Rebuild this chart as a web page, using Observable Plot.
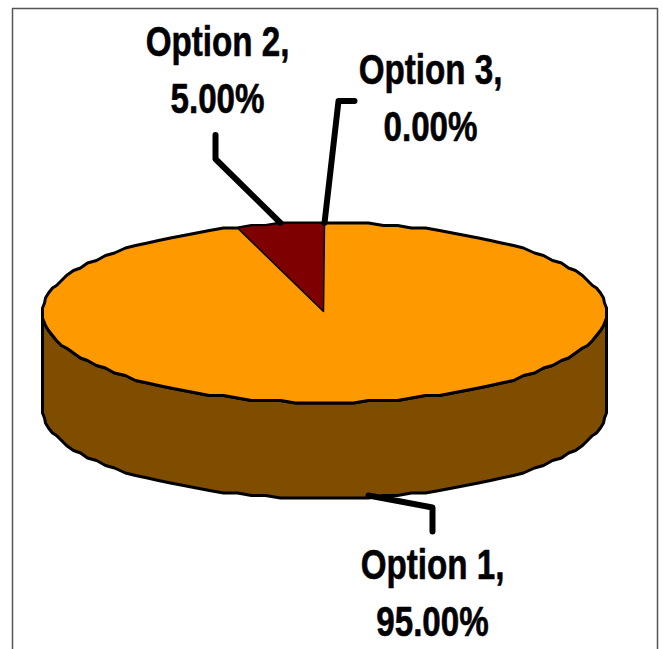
<!DOCTYPE html>
<html>
<head>
<meta charset="utf-8">
<script src="https://cdn.jsdelivr.net/npm/d3@7"></script>
<script src="https://cdn.jsdelivr.net/npm/@observablehq/plot@0.6"></script>
<style>
  html, body { margin: 0; padding: 0; background: #fff; }
  svg { display: block; }
</style>
</head>
<body>
<div id="chart"></div>
<script>
// Survey result shown as a tilted 3D pie
const categories = ["Option 1", "Option 2", "Option 3"];
const shares = [95, 5, 0];
const sliceColors = ["#FF9900", "#7F0000", "#7F0000"];
const wallColor = "#7F4D00";

// Tilted disc geometry in page units
const W = 663, H = 649;
const cx = 324, cy = 312, rx = 282, ry = 90, depth = 96;
const stepDeg = 3;

// Angle runs clockwise from twelve o'clock; outline is snapped to a coarse grid for the chunky rim
const rim = (deg, drop = 0) => {
  const a = deg * Math.PI / 180;
  return {
    x: Math.round(cx + rx * Math.sin(a)),
    y: Math.round((cy + drop - ry * Math.cos(a)) / 2.5) * 2.5
  };
};
const arc = (from, to, drop = 0) => {
  const n = Math.max(1, Math.ceil(Math.abs(to - from) / stepDeg));
  return d3.range(n + 1).map(i => rim(from + (to - from) * i / n, drop));
};

// Slice angles come from the shares, starting at twelve o'clock
let running = 0;
const slices = categories.map((name, i) => {
  const start = running;
  running += shares[i] * 3.6;
  return { name, share: shares[i], start, end: running, mid: (start + running) / 2, color: sliceColors[i] };
});

const disc = arc(0, 360);
const wall = [...arc(90, 270), ...arc(270, 90, depth)];
const wedge = [{ x: cx - 1, y: cy - 1 }, ...arc(slices[1].start, slices[1].end)];

// Each label leader starts at the rim at its slice's middle angle
const leaderBends = [
  { drop: depth - 3, bends: [[64, 12], [64, 36]] },
  { drop: 0, bends: [[-65, -64], [-65, -88]] },
  { drop: 0, bends: [[14, -122], [30, -122]] }
];
const labelAt = [[432, 538], [217, 15], [430, 43]];

const leaders = slices.flatMap((s, i) => {
  const a = rim(s.mid, leaderBends[i].drop);
  return [a, ...leaderBends[i].bends.map(([dx, dy]) => ({ x: a.x + dx, y: a.y + dy }))]
    .map(p => ({ ...p, name: s.name }));
});
const labels = slices.map((s, i) => ({
  x: labelAt[i][0], y: labelAt[i][1],
  text: `${s.name},\n${s.share.toFixed(2)}%`
}));
const frame = [{ x: 12, y: H }, { x: 12, y: 8 }, { x: 657, y: 8 }, { x: 657, y: H }];

const plot = Plot.plot({
  width: W,
  height: H,
  margin: 0,
  x: { domain: [0, W], range: [0, W], axis: null },
  y: { domain: [0, H], range: [0, H], axis: null },
  marks: [
    Plot.line(frame, { x: "x", y: "y", stroke: "#555", strokeWidth: 1.5 }),
    Plot.line(wall, { x: "x", y: "y", fill: wallColor, stroke: "#000", strokeWidth: 3, curve: "linear-closed" }),
    Plot.line(disc, { x: "x", y: "y", fill: slices[0].color, stroke: "#000", strokeWidth: 3, curve: "linear-closed" }),
    Plot.line(wedge, { x: "x", y: "y", fill: slices[1].color, stroke: "#000", strokeWidth: 1.5, curve: "linear-closed" }),
    Plot.line(leaders, { x: "x", y: "y", z: "name", stroke: "#000", strokeWidth: 6, strokeLinecap: "round", strokeLinejoin: "round" }),
    Plot.text(labels, {
      x: "x", y: "y", text: "text",
      fontFamily: "'Liberation Sans', Arial, sans-serif",
      fontWeight: "bold", fontSize: 42, lineHeight: 1.357,
      textAnchor: "middle", lineAnchor: "top", fill: "#000",
      stroke: "#000", strokeWidth: 0.6
    })
  ]
});
// The label face is a condensed bold, so narrow each label in place
plot.querySelectorAll("text").forEach(t => {
  t.setAttribute("transform", `${t.getAttribute("transform") || ""} scale(0.79,1)`);
});
document.getElementById("chart").append(plot);
</script>
</body>
</html>
